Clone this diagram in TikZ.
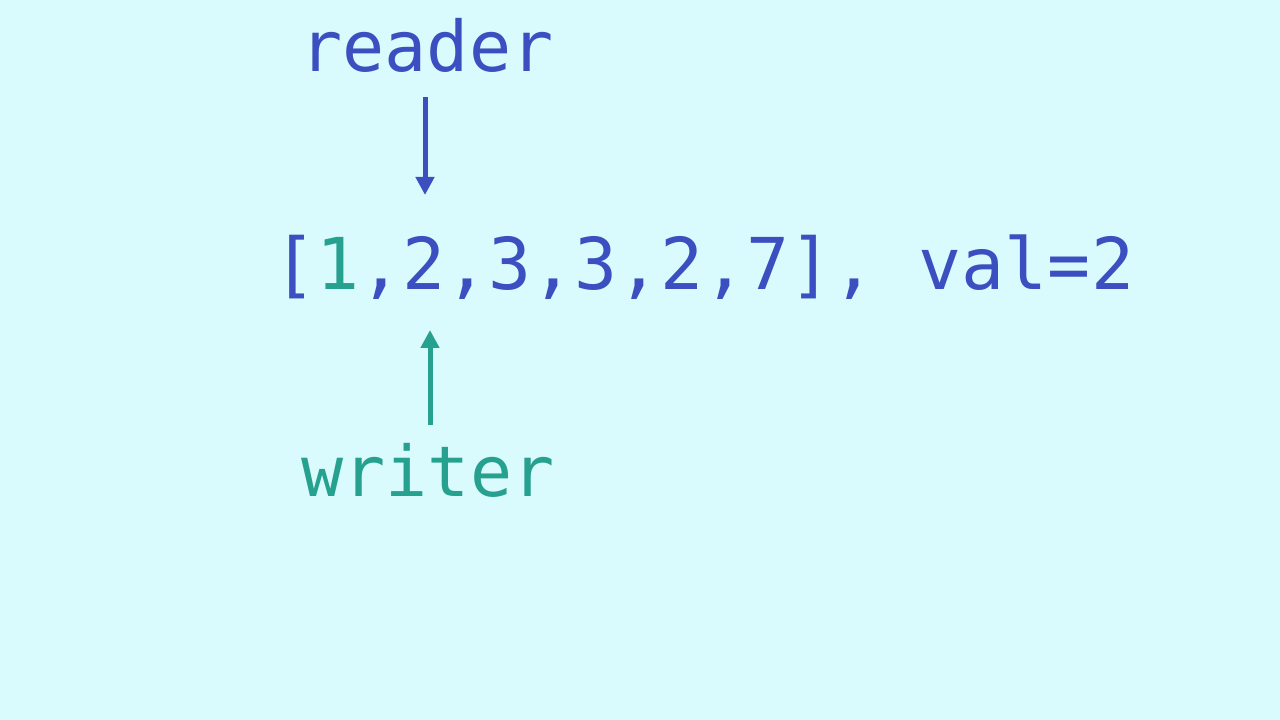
\documentclass[tikz,border=0pt]{standalone}
\usepackage{fontspec}
\setmonofont{DejaVu Sans Mono}
\usetikzlibrary{arrows.meta}
\definecolor{bg}{HTML}{DAFBFD}
\definecolor{bl}{HTML}{3B4FC0}
\definecolor{tl}{HTML}{26A08F}
\begin{document}
\begin{tikzpicture}[x=1pt,y=1pt,
  lbl/.style={inner sep=0pt,anchor=base,font=\fontsize{70}{70}\selectfont\ttfamily},
  arr/.style={line width=5pt,-{Triangle[length=18pt,width=18pt]}}]
\fill[bg] (0,0) rectangle (1280,720);
\useasboundingbox (0,0) rectangle (1280,720);
\node[lbl,text=bl] (reader) at (427,648) {reader};
\node[lbl,text=tl] (writer) at (428,223) {writer};
\node[lbl,text=bl,anchor=base west,font=\fontsize{71.5}{72}\selectfont\ttfamily] (arr) at (273,430) {[\textcolor{tl}{1},2,3,3,2,7], val=2};
\coordinate (rs) at (425,623);
\coordinate (re) at (425,525);
\coordinate (ws) at (430,295);
\coordinate (we) at (430,390);
\draw[arr,bl] (rs) -- (re);
\draw[arr,tl] (ws) -- (we);
\end{tikzpicture}
\end{document}
